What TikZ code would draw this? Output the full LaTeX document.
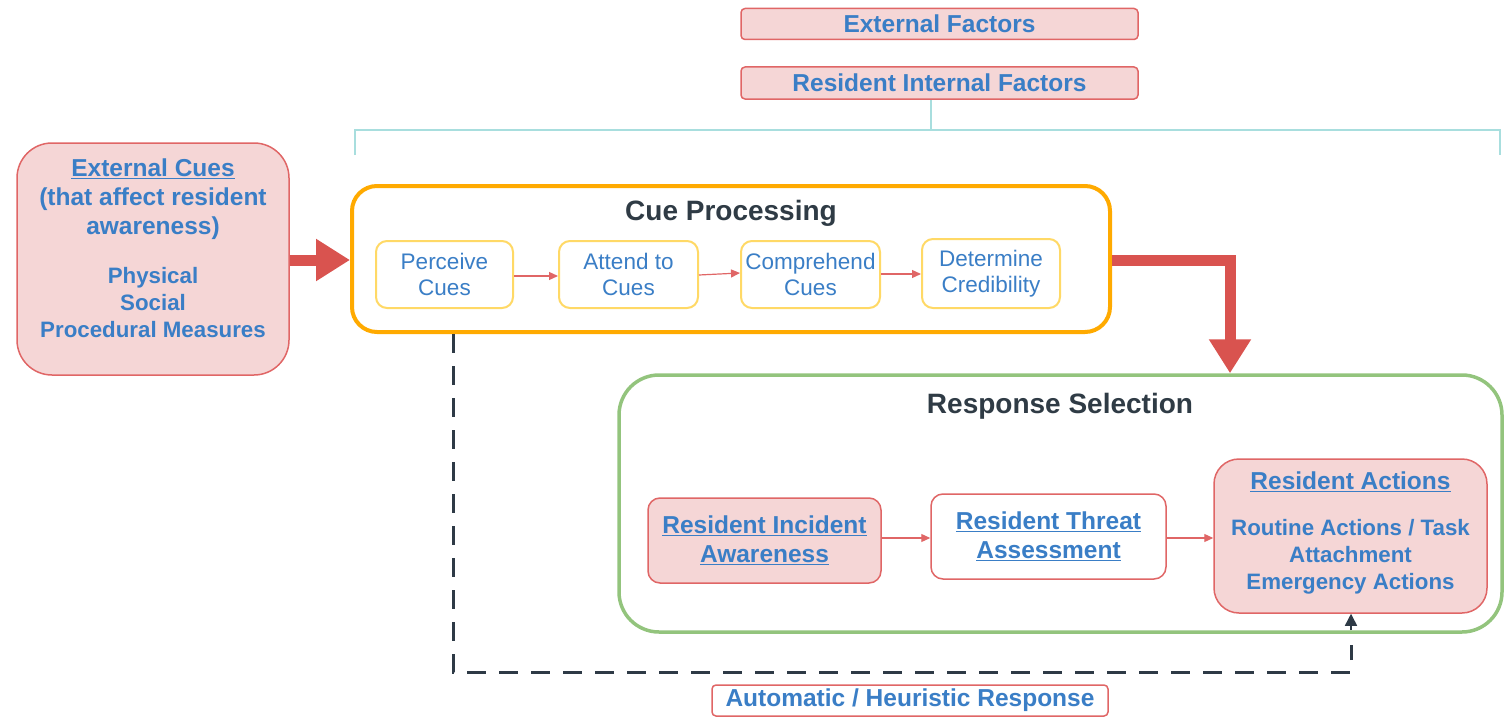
\documentclass[tikz,border=0pt]{standalone}
\usepackage{fontspec}
\setmainfont{Liberation Sans}
\usetikzlibrary{arrows.meta}
\definecolor{pinkfill}{HTML}{F5D6D6}
\definecolor{redline}{HTML}{E06666}
\definecolor{bluetext}{HTML}{3A7EC6}
\definecolor{orangeline}{HTML}{FFAA00}
\definecolor{lightorange}{HTML}{FFD966}
\definecolor{greenline}{HTML}{93C47D}
\definecolor{darktitle}{HTML}{2F3B45}
\definecolor{thickred}{HTML}{D9534F}
\definecolor{teal}{HTML}{A8DEDE}
\definecolor{dashdark}{HTML}{2E3A46}
\tikzset{
  headfont/.style={font=\fontsize{24.5}{29}\selectfont\bfseries},
  itemfont/.style={font=\fontsize{22.3}{27}\selectfont\bfseries},
  factorbox/.style={draw=redline, line width=1.5pt, fill=pinkfill, rounded corners=4pt,
    minimum width=397pt, minimum height=31pt, text=bluetext, headfont, inner sep=0pt},
  pinkbox/.style={draw=redline, line width=1.5pt, fill=pinkfill, text=bluetext, align=center,
    headfont, inner sep=0pt},
  whitebox/.style={draw=redline, line width=1.5pt, fill=white, text=bluetext, align=center,
    headfont, inner sep=0pt},
  plaintext/.style={text=bluetext, align=center, inner sep=0pt},
  cuebox/.style={draw=lightorange, line width=2pt, fill=white, rounded corners=11pt, text=bluetext, align=center,
    font=\fontsize{22.5}{26}\selectfont, minimum width=137pt, minimum height=67pt, inner sep=0pt},
  bigframe/.style={fill=white, inner sep=0pt},
  titletext/.style={text=darktitle, font=\fontsize{28}{32}\selectfont\bfseries, inner sep=0pt},
  thinarrow/.style={draw=redline, line width=1.2pt, -{Triangle[length=9pt,width=8pt]}},
  thickarrow/.style={draw=thickred, line width=11pt, -{Triangle[length=34pt,width=40pt]}},
  dashline/.style={draw=dashdark, line width=3pt, dash pattern=on 19pt off 13pt},
}
\begin{document}
\begin{tikzpicture}[x=1pt,y=-1pt]
\useasboundingbox (0,0) rectangle (1505,717);

% top factor boxes
\node[factorbox] (ef) at (939.5,24) {External Factors};
\node[factorbox, minimum height=32pt] (rif) at (939.5,83) {Resident Internal Factors};

% brace
\coordinate (bl) at (355,155);
\coordinate (br) at (1500,155);
\coordinate (bm) at (931,130);
\draw[teal, line width=2pt] (bl) |- (bm) -| (br);
\draw[teal, line width=2pt] (rif.south -| bm) -- (bm);

% External cues
\node[pinkbox, rounded corners=35pt, minimum width=272pt, minimum height=232pt] (ec) at (153,259) {};
\node[plaintext, headfont] (echead) at (153,199)
  {\underline{External Cues}\\(that affect resident\\awareness)};
\node[plaintext, itemfont] (ecitems) at (153,303)
  {Physical\\Social\\Procedural Measures};

% Cue Processing frame
\node[bigframe, draw=orangeline, line width=4pt, rounded corners=25pt, minimum width=758pt, minimum height=146pt] (cp) at (731,259) {};
\node[titletext] (cptitle) at (731,213) {Cue Processing};

\node[cuebox] (pc) at (444.5,274.5) {Perceive\\Cues};
\node[cuebox, minimum width=139pt] (ac) at (628.5,274.5) {Attend to\\Cues};
\node[cuebox, minimum width=139pt] (cc) at (810.5,274.5) {Comprehend\\Cues};
\node[cuebox, minimum width=138pt, minimum height=69pt] (dc) at (991,273.5) {Determine\\Credibility};

\draw[thinarrow] (pc.east |- 0,276) -- (ac.west |- 0,276);
\draw[thinarrow] (ac.east |- 0,275) -- (cc.west |- 0,273);
\draw[thinarrow] (cc.east |- 0,274) -- (dc.west |- 0,274);

% arrow External Cues -> Cue Processing
\draw[thickarrow] (ec.east |- 0,260) -- (cp.west |- 0,260);

% Response Selection frame
\node[bigframe, draw=greenline, line width=3.5pt, rounded corners=40pt, minimum width=883pt, minimum height=257pt] (rs) at (1060.5,503.5) {};
\node[titletext] (rstitle) at (1060,406) {Response Selection};

% elbow arrow
\coordinate (elb) at (1230,260);
\draw[thickarrow] (cp.east |- elb) -- (elb) -- (elb |- rs.north);

% response boxes
\node[pinkbox, rounded corners=12pt, minimum width=233pt, minimum height=85pt] (ria) at (764.5,540.5)
  {\underline{Resident Incident}\\\underline{Awareness}};
\node[whitebox, rounded corners=12pt, minimum width=235pt, minimum height=85pt] (rta) at (1048.5,536.5)
  {\underline{Resident Threat}\\\underline{Assessment}};
\node[pinkbox, rounded corners=25pt, minimum width=273pt, minimum height=154pt] (ra) at (1350.5,536) {};
\node[plaintext, headfont] (rahead) at (1350.5,482) {\underline{Resident Actions}};
\node[plaintext, itemfont] (raitems) at (1350.5,557)
  {Routine Actions / Task\\Attachment\\Emergency Actions};

\draw[thinarrow] (ria.east |- 0,538) -- (rta.west |- 0,538);
\draw[thinarrow] (rta.east |- 0,538) -- (ra.west |- 0,538);

% dashed automatic path
\coordinate (d1) at (453,672);
\coordinate (d2) at (1351,672);
\coordinate (d3) at (1351,645);
\coordinate (d4) at (1351,630);
\draw[dashline] (cp.south -| d1) -- (d1) -- (d2) -- (d3);
\draw[draw=dashdark, line width=1.5pt, -{Triangle[length=12pt,width=12pt]}] (d4) -- (ra.south -| d4);

% label
\node[whitebox, rounded corners=4pt, minimum width=396pt, minimum height=31pt] (ahr) at (910,700.5)
  {Automatic / Heuristic Response};
\end{tikzpicture}
\end{document}
